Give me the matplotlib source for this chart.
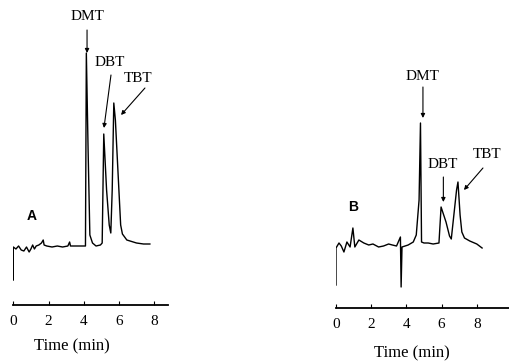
import matplotlib
matplotlib.use("Agg")
import matplotlib.pyplot as plt

# chromatogram A: time (min) and detector response (arbitrary units)
time_a = [0, 0, 0.15, 0.3, 0.45, 0.6, 0.75, 0.9, 1.0, 1.1, 1.2, 1.3, 1.45, 1.6, 1.7, 1.75,
          1.9, 2.2, 2.5, 2.8, 3.1, 3.2, 3.25, 3.4, 3.7, 4.0, 4.1, 4.15, 4.25, 4.35, 4.5,
          4.7, 4.95, 5.05, 5.14, 5.3, 5.45, 5.54, 5.62, 5.71, 5.8, 6.1, 6.2, 6.45, 7.0,
          7.4, 7.76]
resp_a = [25, 58, 56, 59, 55, 54, 58, 53, 56, 60, 56, 59, 60, 62, 65, 60,
          59, 58, 59, 58, 59, 63, 59, 59, 59, 59, 59, 252, 155, 70, 62,
          59, 60, 62, 171, 115, 80, 72, 115, 202, 185, 80, 71, 65, 62,
          61, 61]

# chromatogram B
time_b = [0, 0, 0.17, 0.3, 0.45, 0.62, 0.8, 0.96, 1.07, 1.3, 1.58, 1.86, 2.1, 2.42, 2.7,
          2.99, 3.2, 3.44, 3.66, 3.7, 3.75, 4.1, 4.39, 4.56, 4.72, 4.8, 4.86, 5.0, 5.24,
          5.52, 5.85, 5.97, 6.25, 6.45, 6.55, 6.85, 6.93, 7.05, 7.15, 7.3, 7.6, 8.0, 8.3]
resp_b = [23, 60, 65, 62, 56, 66, 61, 80, 61, 68, 65, 63, 64, 61, 62,
          64, 63, 62, 71, 21, 61, 63, 66, 73, 108, 185, 66, 65, 65,
          64, 65, 101, 86, 72, 69, 118, 126, 93, 76, 70, 67, 64, 60]

peaks = ["DMT", "DBT", "TBT"]
ticks = [0, 2, 4, 6, 8]

W, H = 509, 361
fig = plt.figure(figsize=(W / 100, H / 100), dpi=100)

serif = "Liberation Serif"


def panel(left, right, axis_y, px_per_min, t, r, letter, letter_pos, notes, label_xy):
    ax = fig.add_axes([left / W, (H - axis_y) / H, (right - left) / W, axis_y / H])
    ax.plot(t, r, color="black", lw=1.0)
    ax.set_xlim(0, (right - left) / px_per_min)
    ax.set_ylim(0, axis_y)
    for s in ["left", "top", "right"]:
        ax.spines[s].set_visible(False)
    ax.spines["bottom"].set_linewidth(1.3)
    ax.set_yticks([])
    ax.set_xticks(ticks)
    ax.tick_params(axis="x", direction="in", length=3, width=0.8, pad=7, labelsize=11)
    for lab in ax.get_xticklabels():
        lab.set_fontfamily(serif)
    ax.set_xlabel("Time (min)", fontsize=12, family=serif)
    ax.xaxis.set_label_coords(*label_xy)
    ax.text(*letter_pos, letter, fontsize=10, fontweight="bold", family="Liberation Sans",
            ha="center", va="center")
    for name, (txt, tail, tip) in zip(peaks, notes):
        ax.text(*txt, name, fontsize=11, family=serif, ha="center", va="center")
        ax.annotate("", xy=tip, xytext=tail,
                    arrowprops=dict(arrowstyle="-|>", color="black", lw=0.8,
                                    mutation_scale=6, shrinkA=0, shrinkB=0))
    return ax


notes_a = [((4.19, 288), (4.19, 275), (4.19, 252)),
           ((5.49, 243), (5.55, 230), (5.15, 177)),
           ((7.08, 227), (7.48, 217), (6.12, 190))]
panel(13.3, 168, 305, 17.6, time_a, resp_a, "A", (1.06, 89), notes_a, (0.38, -0.108))

notes_b = [((4.94, 232), (4.94, 221), (4.94, 190)),
           ((6.08, 143), (6.1, 131), (6.1, 106)),
           ((8.58, 153), (8.35, 140), (7.27, 118))]
panel(336, 509, 308, 17.6, time_b, resp_b, "B", (0.97, 101), notes_b, (0.44, -0.12))

fig.savefig("out.png", dpi=100)
